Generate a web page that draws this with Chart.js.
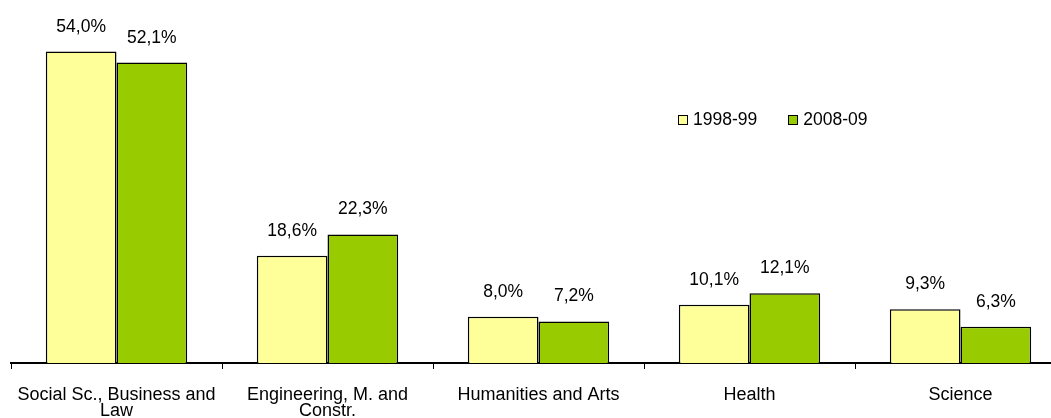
<!DOCTYPE html>
<html>
<head>
<meta charset="utf-8">
<script src="https://cdn.jsdelivr.net/npm/chart.js@4/dist/chart.umd.min.js"></script>
<style>
  html, body { margin: 0; padding: 0; background: #fff; overflow: hidden; }
  #wrap { position: relative; width: 1070px; height: 418px; }
  .legend { position: absolute; top: 109px; left: 678px; font: 17.5px "Liberation Sans", Arial, sans-serif; color: #000; display: flex; gap: 31px; }
  .legend span { display: flex; align-items: center; }
  .legend i { display: inline-block; width: 8px; height: 8px; border: 1px solid #000; margin-right: 5px; }
</style>
</head>
<body>
<div id="wrap">
  <canvas id="myChart" width="1070" height="418"></canvas>
  <div class="legend">
    <span><i style="background:#FFFF99"></i>1998-99</span>
    <span><i style="background:#99CC00"></i>2008-09</span>
  </div>
</div>
<script>
// Categories and series
const categories = [['Social Sc., Business and', 'Law'], ['Engineering, M. and', 'Constr.'], 'Humanities and Arts', 'Health', 'Science'];
const values1998 = [54.0, 18.6, 8.0, 10.1, 9.3];
const values2008 = [52.1, 22.3, 7.2, 12.1, 6.3];

// Draw percentage labels above bars
const valueLabels = {
    id: 'valueLabels',
    afterDatasetsDraw(chart) {
        const ctx = chart.ctx;
        ctx.save();
        ctx.font = '17.5px "Liberation Sans", Arial, sans-serif';
        ctx.fillStyle = '#000';
        ctx.textAlign = 'center';
        ctx.textBaseline = 'alphabetic';
        chart.data.datasets.forEach((ds, i) => {
            chart.getDatasetMeta(i).data.forEach((bar, j) => {
                ctx.fillText(ds.data[j].toFixed(1).replace('.', ',') + '%', bar.x, bar.y - 20);
            });
        });
        ctx.restore();
    }
};

const ctx = document.getElementById('myChart').getContext('2d');
const myChart = new Chart(ctx, {
    type: 'bar',
    data: {
        labels: categories,
        datasets: [{
            label: '1998-99',
            data: values1998,
            backgroundColor: '#FFFF99',
            borderColor: '#000',
            borderWidth: 1.5
        }, {
            label: '2008-09',
            data: values2008,
            backgroundColor: '#99CC00',
            borderColor: '#000',
            borderWidth: 1.5
        }]
    },
    options: {
        responsive: false,
        animation: false,
        layout: { padding: { left: 11, right: 4, top: 17, bottom: 0 } },
        datasets: { bar: { categoryPercentage: 0.67, barPercentage: 1.0 } },
        plugins: { legend: { display: false }, tooltip: { enabled: false } },
        scales: {
            x: {
                grid: { display: true, drawOnChartArea: false, drawTicks: true, tickLength: 6, color: '#000', offset: true },
                border: { color: '#000', width: 2 },
                ticks: {
                    color: '#000',
                    padding: 18,
                    maxRotation: 0,
                    autoSkip: false,
                    font: { family: '"Liberation Sans", Arial, sans-serif', size: 18, lineHeight: 0.89 }
                },
                afterFit: s => {
                    s.height = 55;
                    s.paddingLeft = 0;
                    s.paddingRight = 0;
                }
            },
            y: { display: false, min: 0, max: 60 }
        }
    },
    plugins: [valueLabels]
});
</script>
</body>
</html>
